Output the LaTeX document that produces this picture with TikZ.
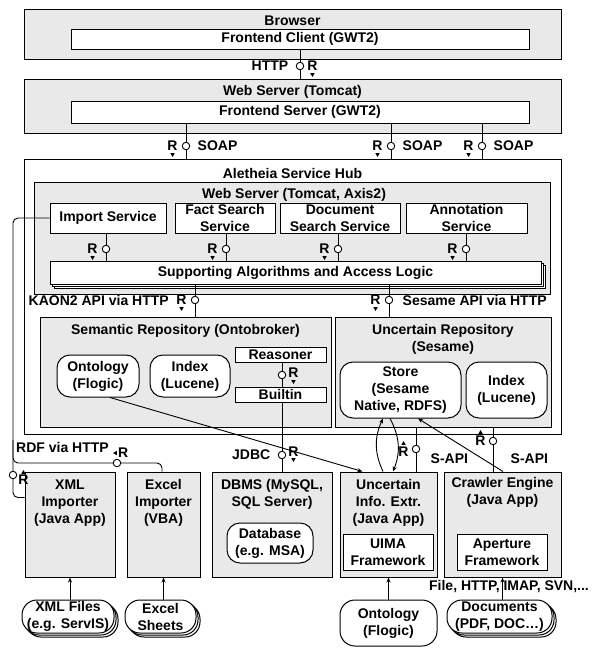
\documentclass[tikz,border=0pt]{standalone}
\usepackage{fontspec}
\setmainfont{Liberation Sans}
\usetikzlibrary{positioning,arrows.meta,shapes.geometric,shadows}
\definecolor{boxgray}{HTML}{E9E9E9}

\begin{document}
\begin{tikzpicture}[x=1pt,y=-1pt,
    font=\bfseries\fontsize{14}{17}\selectfont,
    box/.style={draw,line width=1pt,inner sep=0pt},
    grp/.style={box,fill=boxgray},
    comp/.style={box,fill=white,align=center},
    rbox/.style={box,fill=white,align=center,rounded corners=13pt},
    stack/.style={copy shadow={shadow xshift=4pt,shadow yshift=-4pt,line width=1pt},
                  copy shadow={shadow xshift=2pt,shadow yshift=-2pt,line width=1pt}},
    txt/.style={inner sep=0pt,align=center},
    iface/.style={circle,draw,line width=0.9pt,fill=white,inner sep=0pt,minimum size=7.5pt},
    rlab/.style={inner sep=0pt},
    tri/.style={regular polygon,regular polygon sides=3,fill,inner sep=0pt,minimum size=5pt},
    link/.style={line width=0.9pt},
    arr/.style={link,-{Stealth[length=5pt,width=4pt]}}]
  \useasboundingbox (0,0) rectangle (592,648);

  % browser and web server
  \node[grp,minimum width=537,minimum height=50] (browser) at (292.5,34) {};
  \node[txt] (browser-t) at (292.5,21) {Browser};
  \node[comp,minimum width=458,minimum height=20] (fc) at (300,39) {Frontend Client (GWT2)};
  \node[grp,minimum width=537,minimum height=54] (ws) at (292.5,106) {};
  \node[txt] (ws-t) at (292.5,92) {Web Server (Tomcat)};
  \node[comp,minimum width=458,minimum height=22] (fs) at (300,112) {Frontend Server (GWT2)};

  % service hub
  \node[box,minimum width=537,minimum height=275] (hub) at (292.5,296.5) {};
  \node[txt] (hub-t) at (292.5,173) {Aletheia Service Hub};
  \node[grp,minimum width=516,minimum height=112] (axis) at (292,238) {};
  \node[txt] (axis-t) at (294,195) {Web Server (Tomcat, Axis2)};
  \foreach \n/\x/\w/\t in {imp/108/116/{Import Service},fact/225/100/{Fact Search\\Service},
      doc/340/120/{Document\\Search Service},ann/466.5/121/{Annotation\\Service}}
    \node[comp,minimum width=\w,minimum height=30] (\n) at (\x,218) {\t};
  \node[comp,stack,minimum width=491,minimum height=23] (sup) at (295.5,272.5) {Supporting Algorithms and Access Logic};

  % repositories
  \node[grp,minimum width=291,minimum height=110] (sem) at (185.5,372) {};
  \node[txt] (sem-t) at (185.5,331) {Semantic Repository (Ontobroker)};
  \node[rbox,minimum width=82,minimum height=42] (onto) at (98,376) {Ontology\\(Flogic)};
  \node[rbox,minimum width=80,minimum height=42] (idx1) at (190,376) {Index\\(Lucene)};
  \node[comp,minimum width=91,minimum height=15] (reas) at (280.5,354.5) {Reasoner};
  \node[comp,minimum width=91,minimum height=15] (bi) at (280.5,394.5) {Builtin};
  \node[grp,minimum width=216,minimum height=110] (unc) at (443,372) {};
  \node[txt] (unc-t) at (443,339) {Uncertain Repository\\(Sesame)};
  \node[rbox,minimum width=121,minimum height=56] (store) at (400.5,390) {Store\\(Sesame\\Native, RDFS)};
  \node[rbox,minimum width=81,minimum height=56] (idx2) at (506.5,390) {Index\\(Lucene)};

  % applications
  \node[grp,minimum width=90,minimum height=105] (xml) at (70,524.5) {};
  \node[txt] (xml-t) at (70,503) {XML\\Importer\\(Java App)};
  \node[grp,minimum width=73,minimum height=105] (xls) at (163.5,524.5) {};
  \node[txt] (xls-t) at (163.5,503) {Excel\\Importer\\(VBA)};
  \node[grp,minimum width=120,minimum height=105] (dbms) at (272,524.5) {};
  \node[txt] (dbms-t) at (272,494.5) {DBMS (MySQL,\\SQL Server)};
  \node[rbox,minimum width=86,minimum height=40] (db) at (270,543) {Database\\(e.g. MSA)};
  \node[grp,minimum width=97,minimum height=105] (uie) at (388.5,524.5) {};
  \node[txt] (uie-t) at (388.5,503) {Uncertain\\Info. Extr.\\(Java App)};
  \node[comp,minimum width=90,minimum height=36] (uima) at (388,552) {UIMA\\Framework};
  \node[grp,minimum width=117,minimum height=105] (crw) at (502.5,524.5) {};
  \node[txt] (crw-t) at (502.5,492.5) {Crawler Engine\\(Java App)};
  \node[comp,minimum width=90,minimum height=36] (apt) at (502,552) {Aperture\\Framework};

  % sources
  \node[rbox,stack,rounded corners=15pt,minimum width=92,minimum height=33] (xf) at (68,616.5) {XML Files\\(e.g. ServIS)};
  \node[rbox,stack,rounded corners=15pt,minimum width=71,minimum height=33] (es) at (160.5,616.5) {Excel\\Sheets};
  \node[rbox,rounded corners=15pt,minimum width=97,minimum height=46] (ont2) at (388.5,623) {Ontology\\(Flogic)};
  \node[rbox,stack,rounded corners=15pt,minimum width=105,minimum height=33] (docs) at (499.5,616.5) {Documents\\(PDF, DOC\dots)};
  \node[txt] (proto) at (509,587) {File, HTTP, IMAP, SVN,...};

  % interfaces
  \node[iface] (http) at (300,66) {};
  \node[rlab,right=3pt of http] (httpr) {R};
  \node[tri,shape border rotate=180,below=2pt of httpr] (httpt) {};
  \node[left=4pt of http] (http-t) {HTTP};
  \draw[link] (fc.south -| http) -- (http) -- (ws.north -| http);

  \foreach \i/\x in {1/186,2/391,3/482}{
    \node[iface] (soap\i) at (\x,146) {};
    \node[rlab,left=4pt of soap\i] (soapr\i) {R};
    \node[tri,shape border rotate=180,below=2pt of soapr\i] (soapt\i) {};
    \node[right=4pt of soap\i] (soap-t\i) {SOAP};
    \draw[link] (fs.south -| soap\i) -- (soap\i) -- (hub.north -| soap\i);
  }

  \foreach \n/\x in {imp/106,fact/226,doc/338,ann/466}{
    \node[iface] (r\n) at (\x,249) {};
    \node[rlab,left=4pt of r\n] (rl\n) {R};
    \node[tri,shape border rotate=180,below=2pt of rl\n] (rt\n) {};
    \draw[link] (\n.south -| r\n) -- (r\n) -- (sup.north -| r\n);
  }

  \node[iface] (kaon) at (195,300) {};
  \node[rlab,left=4pt of kaon] (kaonr) {R};
  \node[tri,shape border rotate=180,below=2pt of kaonr] (kaont) {};
  \node[left=4pt of kaonr] (kaon-t) {KAON2 API via HTTP};
  \draw[link] (sup.south -| kaon) -- (kaon) -- (sem.north -| kaon);

  \node[iface] (sesa) at (389,300) {};
  \node[rlab,left=4pt of sesa] (sesar) {R};
  \node[tri,shape border rotate=180,below=2pt of sesar] (sesat) {};
  \node[right=6pt of sesa] (sesa-t) {Sesame API via HTTP};
  \draw[link] (sup.south -| sesa) -- (sesa) -- (unc.north -| sesa);

  \node[iface] (rb) at (282,375) {};
  \node[rlab,right=2pt of rb,yshift=2pt] (rbr) {R};
  \node[tri,shape border rotate=180,below=2pt of rbr] (rbt) {};
  \draw[link] (reas.south -| rb) -- (rb) -- (bi.north -| rb);

  \node[iface] (jdbc) at (282,455) {};
  \node[rlab,right=2pt of jdbc,yshift=3pt] (jdbcr) {R};
  \node[tri,shape border rotate=180,below=1pt of jdbcr] (jdbct) {};
  \node[left=4pt of jdbc] (jdbc-t) {JDBC};
  \draw[link] (bi.south -| jdbc) -- (jdbc) -- (dbms.north -| jdbc);

  \node[iface] (sapi1) at (416,449) {};
  \node[rlab,left=3pt of sapi1,yshift=-3pt] (sapir1) {R};
  \node[tri,above=2pt of sapir1] (sapit1) {};
  \node[right=7pt of sapi1,yshift=-10pt] (sapi-t1) {S-API};
  \draw[link] (uie.north -| sapi1) -- (sapi1) -- (unc.south -| sapi1);

  \node[iface] (sapi2) at (493,441) {};
  \node[rlab,left=3pt of sapi2] (sapir2) {R};
  \node[tri,above=2pt of sapir2] (sapit2) {};
  \node[right=10pt of sapi2,yshift=-18pt] (sapi-t2) {S-API};
  \draw[link] (crw.north -| sapi2) -- (sapi2) -- (unc.south -| sapi2);

  % import links
  \node[iface] (imprt) at (13,475) {};
  \node[rlab,right=1pt of imprt,yshift=-5pt] (imprtr) {R};
  \node[tri,above=1pt of imprtr] (imprtt) {};
  \coordinate (xmlin) at ([yshift=-26pt]xml.north west);
  \draw[link,rounded corners=5pt] (imp.west) -| (imprt) |- (xmlin);
  \node[iface] (rdf) at (117,463) {};
  \node[rlab,above right=2pt and -2pt of rdf] (rdfr) {R};
  \node[tri,shape border rotate=90,left=1pt of rdfr] (rdft) {};
  \node (rdf-t) at (62.5,447) {RDF via HTTP};
  \coordinate (split) at (13,440);
  \draw[link,rounded corners=5pt] (split) |- (rdf);
  \draw[link,rounded corners=5pt] (rdf) -| ([xshift=-1.5pt]xls.north);

  % data flows
  \draw[arr] (xf.north -| xml.south) -- (xml.south);
  \draw[arr] (es.north -| xls.south) -- (xls.south);
  \draw[arr] (ont2.north -| uie.south) -- (uie.south);
  \draw[arr] (docs.north -| crw.south) -- (crw.south);
  \draw[arr] ([xshift=12pt]onto.south) -- ([xshift=-26pt]uie.north);
  \draw[arr] ([xshift=-5.5pt]uie.north) to[bend left=25] ([xshift=-17.5pt]store.south);
  \draw[arr] ([xshift=-10.5pt]store.south) to[bend left=25] ([xshift=4.5pt]uie.north);
  \draw[arr] ([xshift=0.5pt]crw.north) -- ([xshift=17.5pt]store.south);
\end{tikzpicture}
\end{document}
